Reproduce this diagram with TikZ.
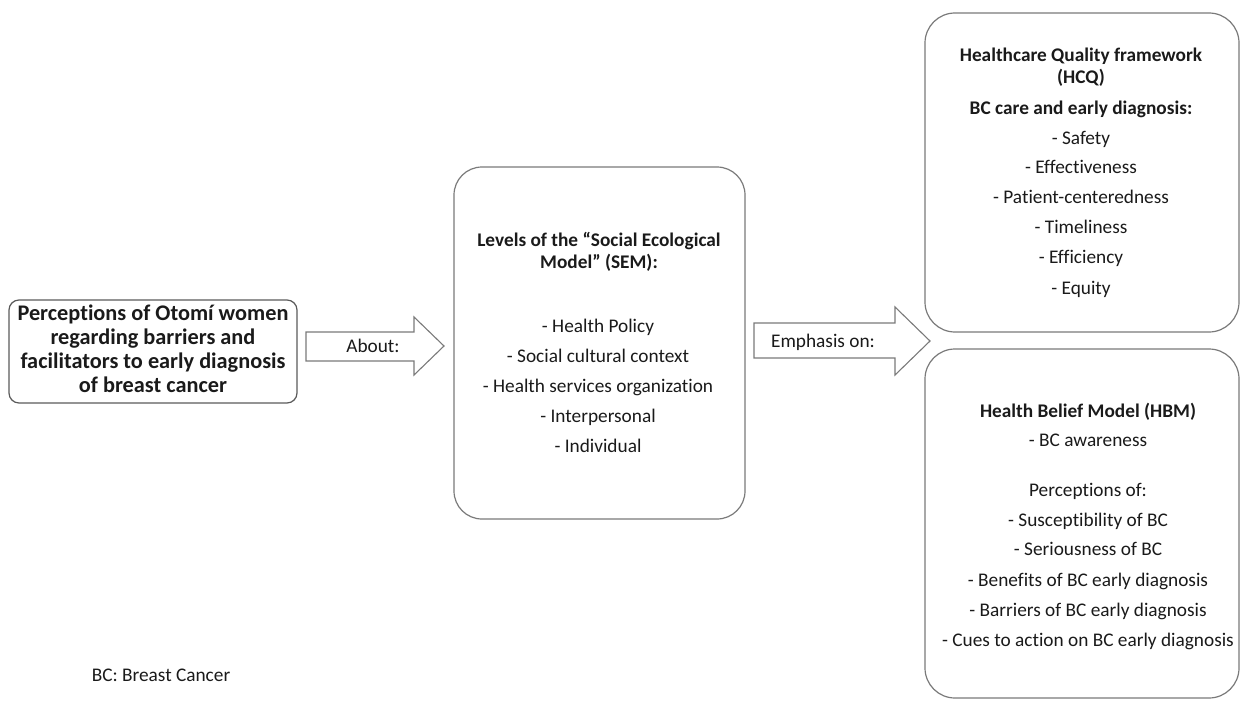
\documentclass[tikz,border=0pt]{standalone}
\usepackage{fontspec}
\setmainfont{Carlito}[Ligatures={NoCommon}]
\definecolor{edge}{HTML}{7A7A7A}
\definecolor{edgedark}{HTML}{5A5A5A}
\definecolor{ink}{HTML}{1A1A1A}
\tikzset{
  box/.style={draw=edge, line width=1.2pt, rectangle, inner sep=0pt},
  txt/.style={anchor=base, inner sep=0pt, text=ink, font=\fontsize{19.3}{23}\selectfont},
  btxt/.style={txt, font=\fontsize{19.3}{23}\selectfont\bfseries},
  ltxt/.style={txt, font=\fontsize{22.3}{26}\selectfont\bfseries},
  blockarrow/.style={draw=edge, line width=1.1pt, fill=white, line join=miter}
}
\begin{document}
\begin{tikzpicture}[x=1pt,y=-1pt]
\useasboundingbox (0,0) rectangle (1240,701);
% boxes
\node[box, draw=edgedark, rounded corners=10pt, minimum width=288pt, minimum height=103pt] (left) at (153,351.5) {};
\node[box, rounded corners=28pt, minimum width=291pt, minimum height=352pt] (mid) at (599.5,343) {};
\node[box, rounded corners=30pt, minimum width=314pt, minimum height=319pt] (hcq) at (1082,172.5) {};
\node[box, rounded corners=30pt, minimum width=314pt, minimum height=349pt] (hbm) at (1082,523.5) {};
% left text
\node[ltxt] (l1) at (153,320.5) {Perceptions of Otomí women};
\node[ltxt] (l2) at (153,344.5) {regarding barriers and};
\node[ltxt] (l3) at (153,368.5) {facilitators to early diagnosis};
\node[ltxt] (l4) at (153,392.5) {of breast cancer};
% arrows
\draw[blockarrow] (306,332) coordinate (a1s) -- (414,332) -- (414,317) -- (444,346) coordinate (a1t) -- (414,375) -- (414,361) -- (306,361) -- cycle;
\node[txt] (about) at (373,352) {About:};
\draw[blockarrow] (754,323) coordinate (a2s) -- (895,323) -- (895,307) -- (930,341) coordinate (a2t) -- (895,375) -- (895,358) -- (754,358) -- cycle;
\node[txt] (emph) at (823,347) {Emphasis on:};
% middle text
\node[btxt] (m1) at (599,246) {Levels of the “Social Ecological};
\node[btxt] (m2) at (599,268) {Model” (SEM):};
\node[txt] (m3) at (598,332) {- Health Policy};
\node[txt] (m4) at (598,362) {- Social cultural context};
\node[txt] (m5) at (598,392) {- Health services organization};
\node[txt] (m6) at (598,422) {- Interpersonal};
\node[txt] (m7) at (598,452) {- Individual};
% HCQ text
\node[btxt] (h1) at (1081,62) {Healthcare Quality framework};
\node[btxt] (h2) at (1081,84) {(HCQ)};
\node[btxt] (h3) at (1081,114) {BC care and early diagnosis:};
\node[txt] (h4) at (1081,144) {- Safety};
\node[txt] (h5) at (1081,173) {- Effectiveness};
\node[txt] (h6) at (1081,203) {- Patient-centeredness};
\node[txt] (h7) at (1081,233) {- Timeliness};
\node[txt] (h8) at (1081,263) {- Efficiency};
\node[txt] (h9) at (1081,294) {- Equity};
% HBM text
\node[btxt] (b1) at (1088,417) {Health Belief Model (HBM)};
\node[txt] (b2) at (1088,446) {- BC awareness};
\node[txt] (b3) at (1088,496) {Perceptions of:};
\node[txt] (b4) at (1088,526) {- Susceptibility of BC};
\node[txt] (b5) at (1088,555) {- Seriousness of BC};
\node[txt] (b6) at (1088,586) {- Benefits of BC early diagnosis};
\node[txt] (b7) at (1088,616) {- Barriers of BC early diagnosis};
\node[txt] (b8) at (1088,646) {- Cues to action on BC early diagnosis};
% note
\node[txt] (note) at (161,681) {BC: Breast Cancer};
\end{tikzpicture}
\end{document}
